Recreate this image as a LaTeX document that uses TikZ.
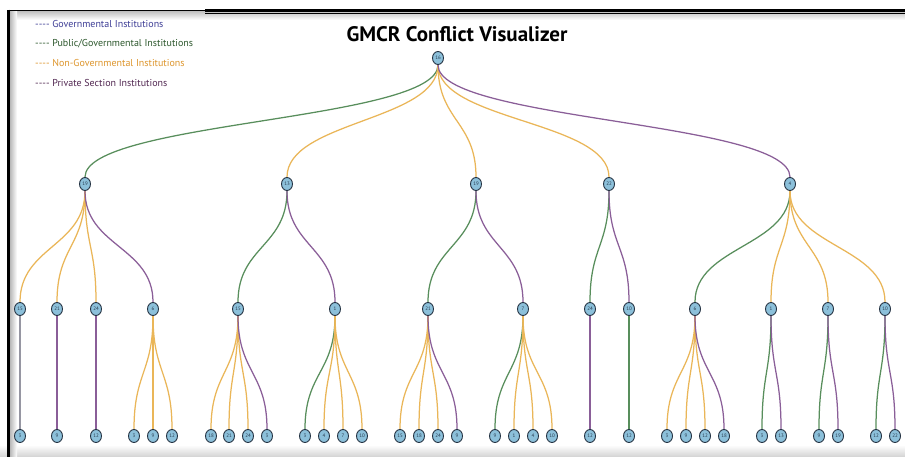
\documentclass[tikz,border=0pt]{standalone}
\usepackage{fontspec}
\setmainfont{PT Sans}
\newfontfamily\titlefont{PT Sans}
\newfontfamily\legfont{PT Sans}
\usetikzlibrary{shapes.geometric,calc,backgrounds}
\definecolor{cgreen}{RGB}{88,142,92}
\definecolor{corange}{RGB}{234,182,88}
\definecolor{cpurple}{RGB}{138,94,152}
\definecolor{cgrey}{RGB}{150,150,162}
\definecolor{cgov}{RGB}{62,62,150}
\definecolor{cpub}{RGB}{45,88,45}
\definecolor{cngo}{RGB}{222,150,45}
\definecolor{cpriv}{RGB}{82,40,82}
\definecolor{ndfill}{RGB}{140,192,218}
\definecolor{ndline}{RGB}{38,52,68}
\definecolor{ndtext}{RGB}{40,60,80}
\tikzset{
  nd/.style={ellipse, draw=ndline, fill=ndfill, line width=0.9pt,
    minimum width=11pt, minimum height=13pt, inner sep=0pt,
    font=\fontsize{5}{5}\selectfont, text=ndtext},
  edge/.style={line width=1.25pt},
  legtxt/.style={anchor=west, inner sep=0pt, font=\legfont\fontsize{10}{12}\selectfont},
  titletxt/.style={font=\titlefont\bfseries\fontsize{21}{24}\selectfont, inner sep=0pt}
}
\newcommand\tlink[3]{%
  \path ($(#1)!0.5!(#2)$) coordinate (tmpm);
  \draw[edge, draw=#3] (#1) .. controls (#1 |- tmpm) and (#2 |- tmpm) .. (#2);
}
\begin{document}
\begin{tikzpicture}[x=1pt,y=-1pt]
\useasboundingbox (0,0) rectangle (905,457);
% frame
\shade[top color=white, bottom color=gray!35] (0,445) rectangle (905,457);
\shade[top color=gray!45, bottom color=white] (10,12) rectangle (905,20);
\shade[left color=gray!55, right color=white] (10,12) rectangle (17,457);
\draw[black, line width=1.6pt] (8,10.5) -- (205,10.5);
\draw[black, line width=3pt] (205,10.5) -- (905,10.5);
\draw[black, line width=1pt] (205,13.8) -- (905,13.8);
\draw[black, line width=2.6pt] (8.6,9.7) -- (8.6,457);
% title and legend
\node[titletxt] (title) at (457,34) {GMCR Conflict Visualizer};
\node[legtxt, text=cgov]  (l1) at (35,24.5) {-{}-{}-{}- Governmental Institutions};
\node[legtxt, text=cpub]  (l2) at (35,44) {-{}-{}-{}- Public/Governmental Institutions};
\node[legtxt, text=cngo]  (l3) at (35,63.5) {-{}-{}-{}- Non-Governmental Institutions};
\node[legtxt, text=cpriv] (l4) at (35,83) {-{}-{}-{}- Private Section Institutions};
% nodes
\node[nd] (r) at (438,58) {16};
\foreach \nm/\xx/\lb in {a1/85/19, a2/287/13, a3/476/19, a4/609/22, a5/790/4}
  \node[nd] (\nm) at (\xx,184) {\lb};
\foreach \nm/\xx/\lb in {b1/20/15, b2/57/21, b3/96/24, b4/153/6, b5/238/15, b6/335/1, b7/428/21,
  b8/523/7, b9/590/24, b10/629/10, b11/695/6, b12/771/1, b13/828/7, b14/885/10}
  \node[nd] (\nm) at (\xx,309) {\lb};
\foreach \nm/\xx/\lb in {c1/20/3, c2/57/9, c3/96/12, c4/134/3, c5/153/9, c6/172/12,
  c7/211/18, c8/229/21, c9/248/24, c10/267/3, c11/305/3, c12/324/4, c13/343/7, c14/362/10,
  c15/400/15, c16/419/18, c17/438/24, c18/457/9, c19/495/9, c20/514/1, c21/533/4, c22/552/10,
  c23/590/12, c24/629/12, c25/667/3, c26/686/9, c27/705/12, c28/724/18, c29/762/3, c30/781/13,
  c31/819/9, c32/838/19, c33/876/12, c34/895/22}
  \node[nd] (\nm) at (\xx,436) {\lb};
% connectors
\begin{pgfonlayer}{background}
\fill[white] (0,0) rectangle (905,457);
\foreach \pp/\nm/\col in {r/a1/cgreen, r/a2/corange, r/a3/corange, r/a4/corange, r/a5/cpurple,
  a1/b1/corange, a1/b2/corange, a1/b3/corange, a1/b4/cpurple,
  a2/b5/cgreen, a2/b6/cpurple, a3/b7/cgreen, a3/b8/cpurple, a4/b9/cgreen, a4/b10/cpurple,
  a5/b11/cgreen, a5/b12/corange, a5/b13/corange, a5/b14/corange,
  b1/c1/cgrey, b2/c2/cpurple, b3/c3/cpurple,
  b4/c4/corange, b4/c5/corange, b4/c6/corange,
  b5/c7/corange, b5/c8/corange, b5/c9/corange, b5/c10/cpurple,
  b6/c11/cgreen, b6/c12/corange, b6/c13/corange, b6/c14/corange,
  b7/c15/corange, b7/c16/corange, b7/c17/corange, b7/c18/cpurple,
  b8/c19/cgreen, b8/c20/corange, b8/c21/corange, b8/c22/corange,
  b9/c23/cpurple, b10/c24/cgreen,
  b11/c25/corange, b11/c26/corange, b11/c27/corange, b11/c28/cpurple,
  b12/c29/cgreen, b12/c30/cpurple, b13/c31/cgreen, b13/c32/cpurple,
  b14/c33/cgreen, b14/c34/cpurple}
  {\tlink{\pp}{\nm}{\col}}
\end{pgfonlayer}
\end{tikzpicture}
\end{document}
